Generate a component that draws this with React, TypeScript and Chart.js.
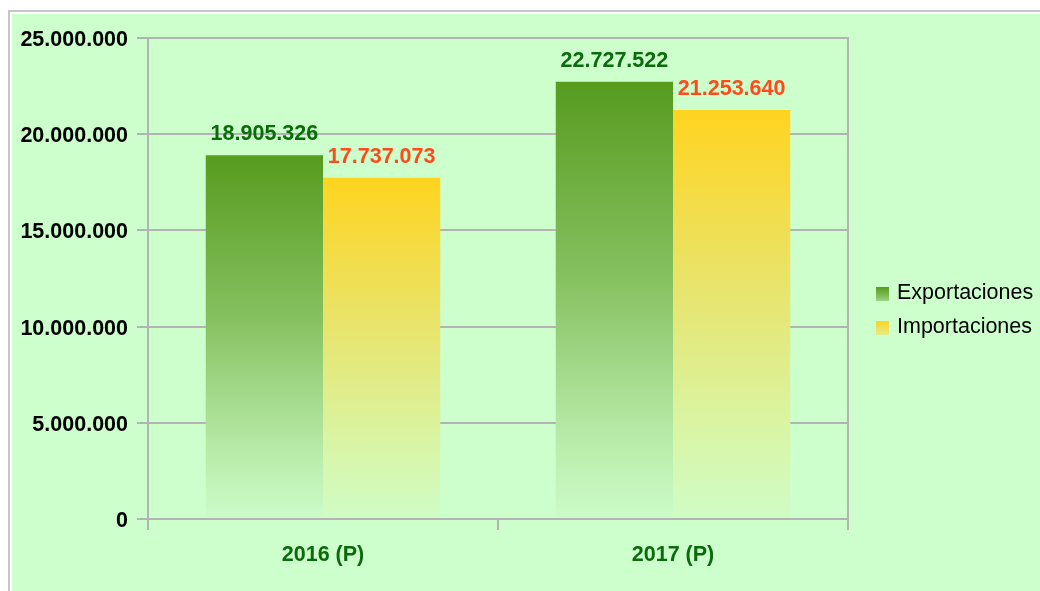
import React, { useEffect, useRef } from "react";
import { Chart, registerables } from "chart.js";

Chart.register(...registerables);

const categories = ["2016 (P)", "2017 (P)"];
const seriesNames = ["Exportaciones", "Importaciones"];
const exportaciones = [18905326, 22727522];
const importaciones = [17737073, 21253640];
const yTicks = [0, 5000000, 10000000, 15000000, 20000000, 25000000];

const FONT = "'Liberation Sans', Arial, sans-serif";
const FS = 21.5;

const fmt = (v: number) =>
  Math.round(v)
    .toString()
    .replace(/\B(?=(\d{3})+(?!\d))/g, ".");

const gradStops = [
  [
    [0, "#579b1f"],
    [0.45, "#86c160"],
    [0.8, "#b6e9a6"],
    [1, "#cdfcc9"],
  ],
  [
    [0, "#ffd41f"],
    [0.45, "#e7e56f"],
    [0.8, "#d8f6a8"],
    [1, "#cffcc6"],
  ],
];
const labelColors = ["#0a6b0a", "#ff4a1c"];

function makeGrad(c: CanvasRenderingContext2D, top: number, bottom: number, idx: number) {
  const g = c.createLinearGradient(0, top, 0, bottom);
  for (const [o, col] of gradStops[idx]) g.addColorStop(o as number, col as string);
  return g;
}

export default function App() {
  const ref = useRef<HTMLCanvasElement | null>(null);
  useEffect(() => {
    const canvas = ref.current!;
    const bgPlugin = {
      id: "bg",
      beforeDraw(chart: any) {
        const c = chart.ctx;
        c.save();
        c.fillStyle = "#ffffff";
        c.fillRect(0, 0, chart.width, chart.height);
        c.fillStyle = "#c6c6c6";
        c.fillRect(8, 10, chart.width - 8, 2);
        c.fillRect(8, 10, 2, chart.height - 10);
        c.fillStyle = "#ccffcc";
        c.fillRect(12, 14, chart.width - 12, chart.height - 14);
        c.restore();
      },
      afterDraw(chart: any) {
        const c = chart.ctx;
        const a = chart.chartArea;
        c.save();
        c.strokeStyle = "#b3b3b3";
        c.lineWidth = 2;
        c.beginPath();
        c.moveTo(a.right, a.top - 1);
        c.lineTo(a.right, a.bottom);
        c.stroke();
        // data labels
        c.font = `bold ${FS}px ${FONT}`;
        c.textAlign = "center";
        c.textBaseline = "middle";
        chart.data.datasets.forEach((ds: any, di: number) => {
          const meta = chart.getDatasetMeta(di);
          c.fillStyle = labelColors[di];
          meta.data.forEach((el: any, i: number) => {
            c.fillText(fmt(ds.data[i]), el.x, el.y - 21);
          });
        });
        // legend
        const boxes = [287, 321];
        chart.data.datasets.forEach((ds: any, di: number) => {
          const y = boxes[di];
          c.fillStyle = makeGrad(c, y, y + 14 * 1.6, di);
          c.fillRect(876, y, 13, 14);
          c.fillStyle = "#000000";
          c.font = `${FS}px ${FONT}`;
          c.textAlign = "left";
          c.textBaseline = "middle";
          c.fillText(ds.label, 897, y + 6);
        });
        c.restore();
      },
    };

    const bg = (di: number) => (ctx: any) => {
      const chart = ctx.chart;
      const ys = chart.scales?.y;
      const fallback = gradStops[di][0][1] as string;
      if (!ys || ctx.raw == null) return fallback;
      const top = ys.getPixelForValue(ctx.raw);
      const bottom = ys.getPixelForValue(0);
      if (!isFinite(top) || !isFinite(bottom) || top === bottom) return fallback;
      return makeGrad(chart.ctx, top, bottom, di);
    };

    const chart = new Chart(canvas, {
      type: "bar",
      data: {
        labels: categories,
        datasets: [
          { label: seriesNames[0], data: exportaciones, backgroundColor: bg(0) },
          { label: seriesNames[1], data: importaciones, backgroundColor: bg(1) },
        ],
      },
      options: {
        responsive: false,
        animation: false,
        maintainAspectRatio: false,
        categoryPercentage: 0.67,
        barPercentage: 1,
        layout: { padding: { left: 0, top: 38, right: 192, bottom: 0 } },
        plugins: { legend: { display: false }, tooltip: { enabled: false } },
        scales: {
          x: {
            offset: true,
            grid: {
              offset: true,
              drawOnChartArea: false,
              tickLength: 11,
              color: "#b3b3b3",
              lineWidth: 2,
            },
            border: { color: "#b3b3b3", width: 2 },
            ticks: {
              padding: 12,
              color: "#0a6b0a",
              font: { family: FONT, size: FS, weight: "bold" },
            },
            afterFit: (s: any) => {
              s.height = 591 - 519;
            },
          },
          y: {
            min: 0,
            max: 25000000,
            z: 1,
            afterBuildTicks: (s: any) => {
              s.ticks = yTicks.map((v) => ({ value: v }));
            },
            grid: { color: "#b3b3b3", lineWidth: 2, tickLength: 11 },
            border: { color: "#b3b3b3", width: 2 },
            ticks: {
              padding: 9,
              labelOffset: 2,
              color: "#000000",
              font: { family: FONT, size: FS, weight: "bold" },
              callback: (v: any) => fmt(Number(v)),
            },
            afterFit: (s: any) => {
              s.width = 148;
            },
          },
        },
      },
      plugins: [bgPlugin],
    });
    chart.update();
    return () => chart.destroy();
  }, []);
  return (
    <div style={{ position: "absolute", left: 0, top: 0, width: 1040, height: 591 }}>
      <canvas ref={ref} width={1040} height={591} style={{ display: "block" }} />
    </div>
  );
}
